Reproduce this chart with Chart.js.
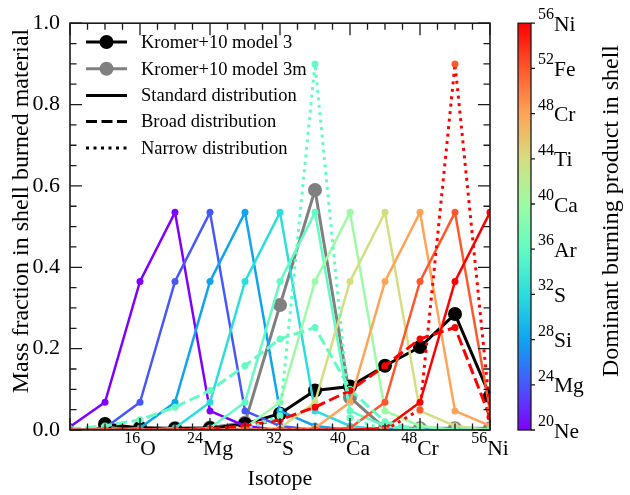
<!DOCTYPE html>
<html>
<head>
<meta charset="utf-8">
<script src="https://cdn.jsdelivr.net/npm/chart.js@4"></script>
<style>
  html, body { margin: 0; padding: 0; background: #fff; }
  #wrap { width: 630px; height: 495px; }
</style>
</head>
<body>
<div id="wrap"><canvas id="c" width="630" height="495"></canvas></div>
<script>
// ---------- data ----------
const massNumbers = [8, 12, 16, 20, 24, 28, 32, 36, 40, 44, 48, 52, 56];

// x-axis tick labels (isotopes)
const isotopeMass = [16, 24, 32, 40, 48, 56];
const isotopeSymbol = ['O', 'Mg', 'S', 'Ca', 'Cr', 'Ni'];

// colour bar: dominant burning product
const productMass = [20, 24, 28, 32, 36, 40, 44, 48, 52, 56];
const productSymbol = ['Ne', 'Mg', 'Si', 'S', 'Ar', 'Ca', 'Ti', 'Cr', 'Fe', 'Ni'];
const productColors = ['#8000ff', '#4757fb', '#0ea4f0', '#2bdddd', '#63fbc3',
                       '#9cfba4', '#d5dd80', '#ffa457', '#ff572c', '#ff0000'];

// Kromer+10 models
const model3  = [null, 0.015, 0.005, 0.003, 0.004, 0.015, 0.040, 0.097, 0.107, 0.158, 0.204, 0.285, 0.083];
const model3m = [null, 0.005, 0.006, 0.005, 0.006, 0.018, 0.307, 0.590, 0.080, 0.004, 0.004, 0.004, 0.004];

// standard distributions, one per dominant product
const std20 = [0.008, 0.068, 0.365, 0.535, 0.047, 0.010, 0, 0, 0, 0, 0, 0, 0];
const std24 = [0, 0.005, 0.068, 0.365, 0.535, 0.047, 0.010, 0, 0, 0, 0, 0, 0];
const std28 = [0, 0, 0.005, 0.068, 0.365, 0.535, 0.047, 0.010, 0, 0, 0, 0, 0];
const std32 = [0, 0, 0, 0.005, 0.068, 0.365, 0.535, 0.047, 0.010, 0, 0, 0, 0];
const std36 = [0, 0, 0, 0, 0.005, 0.068, 0.365, 0.535, 0.047, 0.010, 0, 0, 0];
const std40 = [0, 0, 0, 0, 0, 0.005, 0.068, 0.365, 0.535, 0.047, 0.010, 0, 0];
const std44 = [0, 0, 0, 0, 0, 0, 0.005, 0.068, 0.365, 0.535, 0.047, 0.010, 0];
const std48 = [0, 0, 0, 0, 0, 0, 0, 0.005, 0.068, 0.365, 0.535, 0.047, 0.010];
const std52 = [0, 0, 0, 0, 0, 0, 0, 0, 0.005, 0.068, 0.365, 0.535, 0.047];
const std56 = [0, 0, 0, 0, 0, 0, 0, 0, 0, 0.005, 0.068, 0.365, 0.535];

// broad distributions
const broad36 = [0.003, 0.010, 0.025, 0.056, 0.097, 0.158, 0.224, 0.252, 0.100, 0.020, 0, 0, 0];
const broad52 = [0, 0, 0, 0, 0.003, 0.010, 0.025, 0.056, 0.097, 0.158, 0.224, 0.252, 0.032];

// narrow distributions
const narrow36 = [0, 0, 0, 0, 0, 0, 0.035, 0.900, 0.030, 0, 0, 0, 0];
const narrow52 = [0, 0, 0, 0, 0, 0, 0, 0, 0, 0, 0.050, 0.900, 0.050];

const legendLabels = ['Kromer+10 model 3', 'Kromer+10 model 3m',
                      'Standard distribution', 'Broad distribution', 'Narrow distribution'];

// ---------- build datasets ----------
const FONT = "'Liberation Serif', 'Times New Roman', serif";
const stdSeries = [std20, std24, std28, std32, std36, std40, std44, std48, std52, std56];
const toPts = arr => massNumbers.map((m, i) => ({ x: m, y: arr[i] }));

const datasets = [];
function addLine(arr, color, opts) {
  datasets.push(Object.assign({
    data: toPts(arr),
    borderColor: color,
    backgroundColor: color,
    pointBackgroundColor: color,
    pointBorderWidth: 0,
    pointRadius: 3.5,
    borderWidth: 2.5,
    tension: 0,
    clip: 0,
    borderCapStyle: 'butt'
  }, opts || {}));
}
// Chart.js: lower order is drawn on top
addLine(model3, '#000000', { pointRadius: 7, borderWidth: 3, order: 15 });
addLine(model3m, '#808080', { pointRadius: 7, borderWidth: 3, order: 16 });
stdSeries.forEach((s, k) => addLine(s, productColors[k], { order: 14 - k }));
addLine(broad36, productColors[4], { borderDash: [11, 4.5], borderWidth: 3, order: 3 });
addLine(broad52, productColors[9], { borderDash: [11, 4.5], borderWidth: 3, order: 2 });
addLine(narrow36, productColors[4], { borderDash: [3, 4.5], borderWidth: 3, order: 1 });
addLine(narrow52, productColors[9], { borderDash: [3, 4.5], borderWidth: 3, order: 0,
                                      pointBackgroundColor: productColors[8] });

// ---------- decorations plugin ----------
const decor = {
  id: 'decor',
  afterDatasetsDraw(chart) {
    const ctx = chart.ctx;
    const a = chart.chartArea;
    const xs = chart.scales.x, ys = chart.scales.y, cb = chart.scales.cb;
    ctx.save();
    // frame
    ctx.strokeStyle = '#1a1a1a';
    ctx.lineWidth = 1.6;
    ctx.strokeRect(a.left, a.top, a.right - a.left, a.bottom - a.top);

    // ticks (inward, all four sides)
    ctx.lineWidth = 1.3;
    ctx.beginPath();
    for (let v = 0; v <= 20; v++) {
      const py = ys.getPixelForValue(v * 0.05);
      const len = (v % 4 === 0) ? 12 : 6.5;
      ctx.moveTo(a.left, py); ctx.lineTo(a.left + len, py);
      ctx.moveTo(a.right, py); ctx.lineTo(a.right - len, py);
    }
    for (let m = 8; m <= 56; m += 2) {
      const px = xs.getPixelForValue(m);
      const len = (m % 8 === 0) ? 12 : 6.5;
      ctx.moveTo(px, a.bottom); ctx.lineTo(px, a.bottom - len);
      ctx.moveTo(px, a.top); ctx.lineTo(px, a.top + len);
    }
    ctx.stroke();

    // x tick labels with superscript mass numbers
    ctx.fillStyle = '#000';
    ctx.textBaseline = 'alphabetic';
    ctx.textAlign = 'left';
    const supFont = '16px ' + FONT, mainFont = '21.5px ' + FONT;
    isotopeMass.forEach((m, i) => {
      const px = xs.getPixelForValue(m);
      ctx.font = supFont; const ws = ctx.measureText(String(m)).width;
      ctx.font = mainFont; const wm = ctx.measureText(isotopeSymbol[i]).width;
      const x0 = px - (ws + wm) / 2;
      ctx.font = supFont; ctx.fillText(String(m), x0, a.bottom + 13);
      ctx.font = mainFont; ctx.fillText(isotopeSymbol[i], x0 + ws, a.bottom + 25);
    });

    // axis titles
    ctx.font = '22px ' + FONT;
    ctx.textAlign = 'center';
    ctx.textBaseline = 'alphabetic';
    ctx.fillText('Isotope', (a.left + a.right) / 2, 485);
    ctx.save();
    ctx.translate(22, 211);
    ctx.rotate(-Math.PI / 2);
    ctx.font = '24px ' + FONT;
    ctx.textBaseline = 'middle';
    ctx.fillText('Mass fraction in shell burned material', 0, 0);
    ctx.restore();

    // legend
    const lx0 = 86, lx1 = 127, tx = 141;
    const rows = [42, 68.7, 95.5, 121.5, 148];
    const styles = [
      { c: '#000', dash: [], marker: true },
      { c: '#808080', dash: [], marker: true },
      { c: '#000', dash: [], marker: false },
      { c: '#000', dash: [11, 4.5], marker: false },
      { c: '#000', dash: [3, 4.5], marker: false }
    ];
    styles.forEach((s, i) => {
      const y = rows[i];
      ctx.strokeStyle = s.c;
      ctx.lineWidth = 3;
      ctx.setLineDash(s.dash);
      ctx.lineCap = 'butt';
      ctx.beginPath(); ctx.moveTo(lx0, y); ctx.lineTo(lx1, y); ctx.stroke();
      ctx.setLineDash([]);
      if (s.marker) {
        ctx.fillStyle = s.c;
        ctx.beginPath(); ctx.arc((lx0 + lx1) / 2, y, 7, 0, Math.PI * 2); ctx.fill();
      }
      ctx.fillStyle = '#000';
      ctx.font = '18.5px ' + FONT;
      ctx.textAlign = 'left';
      ctx.textBaseline = 'middle';
      ctx.fillText(legendLabels[i], tx, y + 1);
    });

    // colour bar
    const cbx = a.right + 28, cbw = 13;
    const yTop = cb.getPixelForValue(56), yBot = cb.getPixelForValue(20);
    const g = ctx.createLinearGradient(0, yBot, 0, yTop);
    productColors.forEach((c, k) => g.addColorStop(k / (productColors.length - 1), c));
    ctx.fillStyle = g;
    ctx.fillRect(cbx, yTop, cbw, yBot - yTop);
    ctx.strokeStyle = '#1a1a1a';
    ctx.lineWidth = 1.3;
    ctx.strokeRect(cbx, yTop, cbw, yBot - yTop);
    ctx.beginPath();
    productMass.forEach(m => {
      const py = cb.getPixelForValue(m);
      ctx.moveTo(cbx + cbw, py); ctx.lineTo(cbx + cbw + 4, py);
    });
    ctx.stroke();
    ctx.fillStyle = '#000';
    ctx.textAlign = 'left';
    ctx.textBaseline = 'alphabetic';
    productMass.forEach((m, i) => {
      const py = cb.getPixelForValue(m);
      const x0 = cbx + cbw + 7;
      ctx.font = supFont; const ws = ctx.measureText(String(m)).width;
      ctx.fillText(String(m), x0, py - 4);
      ctx.font = mainFont; ctx.fillText(productSymbol[i], x0 + ws, py + 7.5);
    });
    ctx.save();
    ctx.translate(612, 211);
    ctx.rotate(-Math.PI / 2);
    ctx.font = '24px ' + FONT;
    ctx.textAlign = 'center';
    ctx.textBaseline = 'middle';
    ctx.fillText('Dominant burning product in shell', 0, 0);
    ctx.restore();

    ctx.restore();
  }
};

new Chart(document.getElementById('c'), {
  type: 'line',
  data: { datasets },
  options: {
    responsive: false,
    animation: false,
    events: [],
    layout: { padding: { left: 0, top: 17, right: 140, bottom: 0 } },
    plugins: { legend: { display: false }, tooltip: { enabled: false } },
    scales: {
      x: {
        type: 'linear', min: 8, max: 56,
        ticks: { display: false },
        grid: { display: false, drawTicks: false },
        border: { display: false },
        afterFit: s => { s.height = 65; }
      },
      y: {
        type: 'linear', min: 0, max: 1,
        ticks: {
          stepSize: 0.2, padding: 10, color: '#000',
          font: { family: FONT, size: 22 },
          callback: v => Number(v).toFixed(1)
        },
        grid: { display: false, drawTicks: false },
        border: { display: false },
        afterFit: s => { s.width = 70; }
      },
      cb: {
        type: 'linear', min: 20, max: 56, position: 'right', display: false
      }
    }
  },
  plugins: [decor]
});
</script>
</body>
</html>
